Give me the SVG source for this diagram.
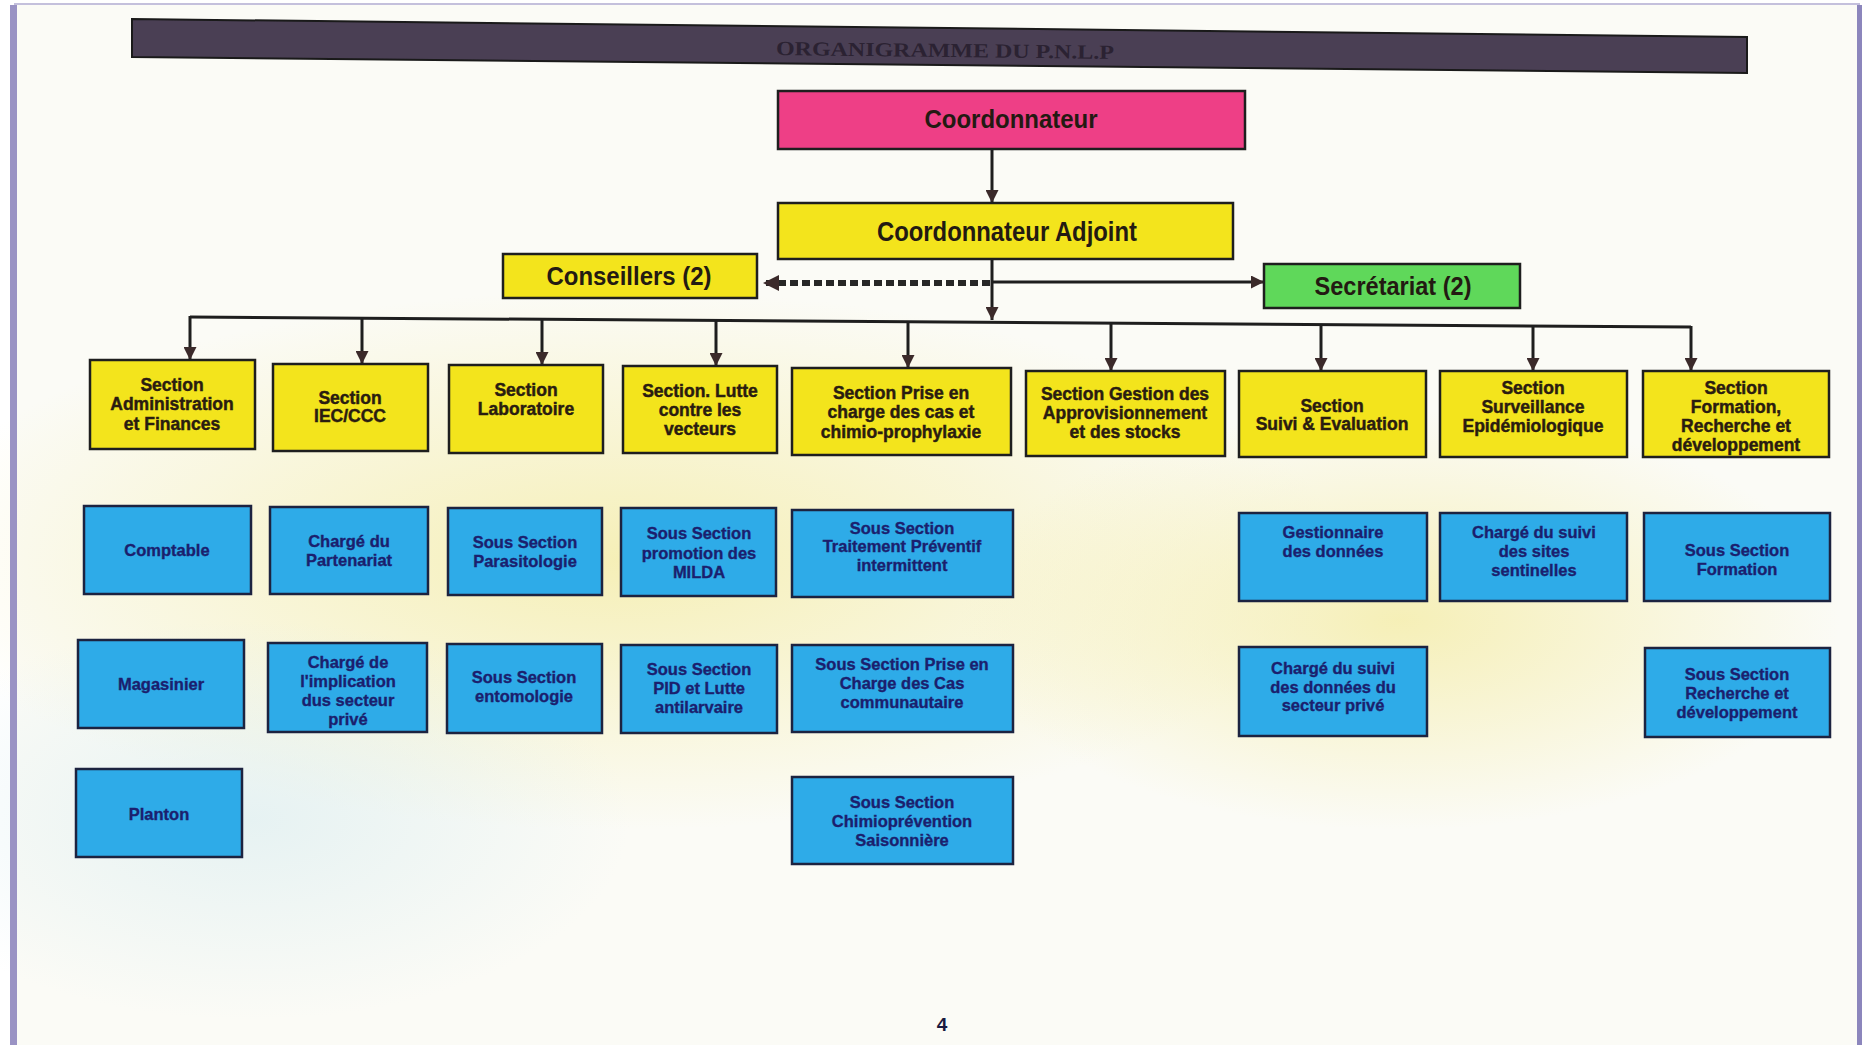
<svg xmlns="http://www.w3.org/2000/svg" width="1863" height="1049" viewBox="0 0 1863 1049">
  <style>
    .box-y { fill: #f3e41c; stroke: #1e1e1e; stroke-width: 2.5; }
    .box-b { fill: #2eabe8; stroke: #1c2340; stroke-width: 2.5; }
    .t-y { font-family: "Liberation Sans", Arial, sans-serif; font-weight: bold; font-size: 17.5px; fill: #2a1c10; stroke: #2a1c10; stroke-width: 0.45; text-anchor: middle; }
    .t-b { font-family: "Liberation Sans", Arial, sans-serif; font-weight: bold; font-size: 16.5px; fill: #1b1f6e; stroke: #1b1f6e; stroke-width: 0.35; text-anchor: middle; }
    .t-big { font-family: "Liberation Sans", Arial, sans-serif; font-weight: bold; fill: #231a12; text-anchor: middle; }
    .wire { stroke: #1e1e1e; stroke-width: 3; fill: none; }
  </style>
  <defs>
    <marker id="arrow" markerUnits="userSpaceOnUse" markerWidth="13" markerHeight="13" refX="13" refY="6.5" orient="auto">
      <path d="M0,0 L13,6.5 L0,13 z" fill="#3b2a2a"/>
    </marker>
    <marker id="arrow-lg" markerUnits="userSpaceOnUse" markerWidth="16" markerHeight="16" refX="16" refY="8" orient="auto">
      <path d="M0,0 L16,8 L0,16 z" fill="#3b2a2a"/>
    </marker>
    <radialGradient id="hazeY" cx="0.5" cy="0.5" r="0.5">
      <stop offset="0" stop-color="#f5eeb0" stop-opacity="0.9"/>
      <stop offset="1" stop-color="#f5eeb0" stop-opacity="0"/>
    </radialGradient>
    <radialGradient id="hazeB" cx="0.5" cy="0.5" r="0.5">
      <stop offset="0" stop-color="#d8ecf0" stop-opacity="0.6"/>
      <stop offset="1" stop-color="#d8ecf0" stop-opacity="0"/>
    </radialGradient>
  </defs>

  <!-- page background -->
  <rect x="0" y="0" width="1863" height="1049" fill="#ffffff"/>
  <rect x="14" y="5" width="1846" height="1040" fill="#fbfbf6"/>
  <ellipse cx="620" cy="560" rx="720" ry="270" fill="url(#hazeY)"/>
  <ellipse cx="1400" cy="620" rx="440" ry="210" fill="url(#hazeY)"/>
  <ellipse cx="250" cy="820" rx="380" ry="200" fill="url(#hazeB)"/>
  <rect x="10" y="5" width="7" height="1040" fill="#9a93c4"/>
  <rect x="1857" y="5" width="5" height="1040" fill="#8c86bc"/>
  <rect x="14" y="3" width="1846" height="2" fill="#c4c0dc"/>

  <!-- title banner -->
  <g id="title">
    <polygon points="132,19 1747,37 1747,73 132,57" fill="#4a3f54" stroke="#1a1a1a" stroke-width="2"/>
    <text x="945" y="57" transform="rotate(0.64 945 50)" font-family="'Liberation Serif', 'Times New Roman', serif" font-weight="bold" font-size="20" fill="#2b2232" text-anchor="middle" textLength="338" lengthAdjust="spacingAndGlyphs">ORGANIGRAMME DU P.N.L.P</text>
  </g>

  <!-- connectors -->
  <g id="connectors">
    <line class="wire" x1="992" y1="149" x2="992" y2="203" marker-end="url(#arrow)"/>
    <line class="wire" x1="992" y1="259" x2="992" y2="320" marker-end="url(#arrow)"/>
    <line x1="990" y1="283" x2="763" y2="283" stroke="#262626" stroke-width="6" stroke-dasharray="8 4" marker-end="url(#arrow-lg)"/>
    <line class="wire" x1="992" y1="282" x2="1264" y2="282" marker-end="url(#arrow)"/>
    <path class="wire" d="M190,317 L1691,327"/>
    <line class="wire" x1="190" y1="316" x2="190" y2="360" marker-end="url(#arrow)"/>
    <line class="wire" x1="362" y1="318" x2="362" y2="364" marker-end="url(#arrow)"/>
    <line class="wire" x1="542" y1="319" x2="542" y2="365" marker-end="url(#arrow)"/>
    <line class="wire" x1="716" y1="320" x2="716" y2="366" marker-end="url(#arrow)"/>
    <line class="wire" x1="908" y1="321" x2="908" y2="368" marker-end="url(#arrow)"/>
    <line class="wire" x1="1111" y1="323" x2="1111" y2="371" marker-end="url(#arrow)"/>
    <line class="wire" x1="1321" y1="324" x2="1321" y2="371" marker-end="url(#arrow)"/>
    <line class="wire" x1="1533" y1="325" x2="1533" y2="371" marker-end="url(#arrow)"/>
    <line class="wire" x1="1691" y1="326" x2="1691" y2="371" marker-end="url(#arrow)"/>
  </g>

  <!-- top management -->
  <g id="coordonnateur">
    <rect x="778" y="91" width="467" height="58" fill="#ee3f86" stroke="#1e1e1e" stroke-width="2.5"/>
    <text class="t-big" x="1011" y="128" font-size="25" fill="#3a1228" textLength="173" lengthAdjust="spacingAndGlyphs">Coordonnateur</text>
  </g>
  <g id="coordonnateur-adjoint">
    <rect class="box-y" x="778" y="203" width="455" height="56"/>
    <text class="t-big" x="1007" y="241" font-size="28" textLength="260" lengthAdjust="spacingAndGlyphs">Coordonnateur Adjoint</text>
  </g>
  <g id="conseillers">
    <rect class="box-y" x="503" y="254" width="254" height="44"/>
    <text class="t-big" x="629" y="285" font-size="26" textLength="165" lengthAdjust="spacingAndGlyphs">Conseillers (2)</text>
  </g>
  <g id="secretariat">
    <rect x="1264" y="264" width="256" height="44" fill="#5fd85a" stroke="#1e1e1e" stroke-width="2.5"/>
    <text class="t-big" x="1393" y="295" font-size="26" textLength="157" lengthAdjust="spacingAndGlyphs">Secrétariat (2)</text>
  </g>

  <!-- sections -->
  <g id="sec-admin">
    <rect class="box-y" x="90" y="360" width="165" height="89"/>
    <text class="t-y" x="172"><tspan x="172" y="391">Section</tspan><tspan x="172" y="410">Administration</tspan><tspan x="172" y="430">et Finances</tspan></text>
  </g>
  <g id="sec-iec">
    <rect class="box-y" x="273" y="364" width="155" height="87"/>
    <text class="t-y" x="350"><tspan x="350" y="404">Section</tspan><tspan x="350" y="422">IEC/CCC</tspan></text>
  </g>
  <g id="sec-labo">
    <rect class="box-y" x="449" y="365" width="154" height="88"/>
    <text class="t-y" x="526"><tspan x="526" y="396">Section</tspan><tspan x="526" y="415">Laboratoire</tspan></text>
  </g>
  <g id="sec-vecteurs">
    <rect class="box-y" x="623" y="366" width="154" height="87"/>
    <text class="t-y" x="700"><tspan x="700" y="397">Section. Lutte</tspan><tspan x="700" y="416">contre les</tspan><tspan x="700" y="435">vecteurs</tspan></text>
  </g>
  <g id="sec-prise-en-charge">
    <rect class="box-y" x="792" y="368" width="219" height="87"/>
    <text class="t-y" x="901"><tspan x="901" y="399">Section Prise en</tspan><tspan x="901" y="418">charge des cas et</tspan><tspan x="901" y="438">chimio-prophylaxie</tspan></text>
  </g>
  <g id="sec-approvisionnement">
    <rect class="box-y" x="1026" y="371" width="199" height="85"/>
    <text class="t-y" x="1125"><tspan x="1125" y="400">Section Gestion des</tspan><tspan x="1125" y="419">Approvisionnement</tspan><tspan x="1125" y="438">et des stocks</tspan></text>
  </g>
  <g id="sec-suivi">
    <rect class="box-y" x="1239" y="371" width="187" height="86"/>
    <text class="t-y" x="1332"><tspan x="1332" y="412">Section</tspan><tspan x="1332" y="430">Suivi &amp; Evaluation</tspan></text>
  </g>
  <g id="sec-surveillance">
    <rect class="box-y" x="1440" y="371" width="187" height="86"/>
    <text class="t-y" x="1533"><tspan x="1533" y="394">Section</tspan><tspan x="1533" y="413">Surveillance</tspan><tspan x="1533" y="432">Epidémiologique</tspan></text>
  </g>
  <g id="sec-formation">
    <rect class="box-y" x="1643" y="371" width="186" height="86"/>
    <text class="t-y" x="1736"><tspan x="1736" y="394">Section</tspan><tspan x="1736" y="413">Formation,</tspan><tspan x="1736" y="432">Recherche et</tspan><tspan x="1736" y="451">développement</tspan></text>
  </g>

  <!-- sub-units -->
  <g id="comptable">
    <rect class="box-b" x="84" y="506" width="167" height="88"/>
    <text class="t-b" x="167" y="556">Comptable</text>
  </g>
  <g id="partenariat">
    <rect class="box-b" x="270" y="507" width="158" height="87"/>
    <text class="t-b" x="349"><tspan x="349" y="547">Chargé du</tspan><tspan x="349" y="566">Partenariat</tspan></text>
  </g>
  <g id="parasitologie">
    <rect class="box-b" x="448" y="508" width="154" height="87"/>
    <text class="t-b" x="525"><tspan x="525" y="548">Sous Section</tspan><tspan x="525" y="567">Parasitologie</tspan></text>
  </g>
  <g id="milda">
    <rect class="box-b" x="621" y="508" width="155" height="88"/>
    <text class="t-b" x="699"><tspan x="699" y="539">Sous Section</tspan><tspan x="699" y="559">promotion des</tspan><tspan x="699" y="578">MILDA</tspan></text>
  </g>
  <g id="tpi">
    <rect class="box-b" x="792" y="510" width="221" height="87"/>
    <text class="t-b" x="902"><tspan x="902" y="534">Sous Section</tspan><tspan x="902" y="552">Traitement Préventif</tspan><tspan x="902" y="571">intermittent</tspan></text>
  </g>
  <g id="gestionnaire">
    <rect class="box-b" x="1239" y="513" width="188" height="88"/>
    <text class="t-b" x="1333"><tspan x="1333" y="538">Gestionnaire</tspan><tspan x="1333" y="557">des données</tspan></text>
  </g>
  <g id="sites-sentinelles">
    <rect class="box-b" x="1440" y="513" width="187" height="88"/>
    <text class="t-b" x="1534"><tspan x="1534" y="538">Chargé du suivi</tspan><tspan x="1534" y="557">des sites</tspan><tspan x="1534" y="576">sentinelles</tspan></text>
  </g>
  <g id="ss-formation">
    <rect class="box-b" x="1644" y="513" width="186" height="88"/>
    <text class="t-b" x="1737"><tspan x="1737" y="556">Sous Section</tspan><tspan x="1737" y="575">Formation</tspan></text>
  </g>
  <g id="magasinier">
    <rect class="box-b" x="78" y="640" width="166" height="88"/>
    <text class="t-b" x="161" y="690">Magasinier</text>
  </g>
  <g id="secteur-prive">
    <rect class="box-b" x="268" y="643" width="159" height="89"/>
    <text class="t-b" x="348"><tspan x="348" y="668">Chargé de</tspan><tspan x="348" y="687">l'implication</tspan><tspan x="348" y="706">dus secteur</tspan><tspan x="348" y="725">privé</tspan></text>
  </g>
  <g id="entomologie">
    <rect class="box-b" x="447" y="644" width="155" height="89"/>
    <text class="t-b" x="524"><tspan x="524" y="683">Sous Section</tspan><tspan x="524" y="702">entomologie</tspan></text>
  </g>
  <g id="pid">
    <rect class="box-b" x="621" y="645" width="156" height="88"/>
    <text class="t-b" x="699"><tspan x="699" y="675">Sous Section</tspan><tspan x="699" y="694">PID et Lutte</tspan><tspan x="699" y="713">antilarvaire</tspan></text>
  </g>
  <g id="pec-communautaire">
    <rect class="box-b" x="792" y="645" width="221" height="87"/>
    <text class="t-b" x="902"><tspan x="902" y="670">Sous Section Prise en</tspan><tspan x="902" y="689">Charge des Cas</tspan><tspan x="902" y="708">communautaire</tspan></text>
  </g>
  <g id="donnees-prive">
    <rect class="box-b" x="1239" y="647" width="188" height="89"/>
    <text class="t-b" x="1333"><tspan x="1333" y="674">Chargé du suivi</tspan><tspan x="1333" y="693">des données du</tspan><tspan x="1333" y="711">secteur privé</tspan></text>
  </g>
  <g id="ss-recherche">
    <rect class="box-b" x="1645" y="648" width="185" height="89"/>
    <text class="t-b" x="1737"><tspan x="1737" y="680">Sous Section</tspan><tspan x="1737" y="699">Recherche et</tspan><tspan x="1737" y="718">développement</tspan></text>
  </g>
  <g id="planton">
    <rect class="box-b" x="76" y="769" width="166" height="88"/>
    <text class="t-b" x="159" y="820">Planton</text>
  </g>
  <g id="smc">
    <rect class="box-b" x="792" y="777" width="221" height="87"/>
    <text class="t-b" x="902"><tspan x="902" y="808">Sous Section</tspan><tspan x="902" y="827">Chimioprévention</tspan><tspan x="902" y="846">Saisonnière</tspan></text>
  </g>

  <!-- page number -->
  <text x="942" y="1031" font-family="'Liberation Sans', Arial, sans-serif" font-weight="bold" font-size="19" fill="#1a1a40" text-anchor="middle">4</text>
</svg>
